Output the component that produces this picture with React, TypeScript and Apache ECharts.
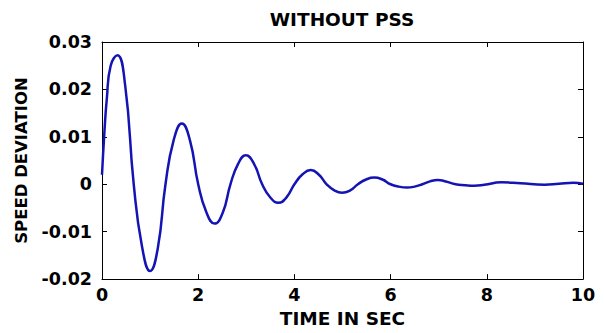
import React, { useEffect, useRef } from "react";
import * as echarts from "echarts";

const timeSec: number[] = [
  0, 0.05, 0.1, 0.18, 0.32, 0.48, 0.66, 0.83, 1.0, 1.16, 1.32, 1.49, 1.66, 1.83,
  2.0, 2.17, 2.34, 2.51, 2.67, 2.83, 2.99, 3.16, 3.33, 3.5, 3.67, 3.84, 4.0,
  4.17, 4.34, 4.51, 4.67, 4.83, 4.99, 5.16, 5.32, 5.49, 5.66, 5.83, 6.0, 6.17,
  6.34, 6.5, 6.66, 6.82, 6.98, 7.15, 7.35, 7.55, 7.74, 7.95, 8.3, 8.7, 9.2, 9.5,
  9.8, 10,
];

const speedDeviation: number[] = [
  0.002, 0.011, 0.018, 0.025, 0.0272, 0.021, 0.0, -0.013, -0.0183, -0.0135, 0,
  0.0093, 0.0128, 0.0092, 0, -0.0059, -0.0083, -0.006, 0, 0.0043, 0.0061,
  0.0043, 0, -0.0028, -0.0039, -0.0027, 0, 0.0021, 0.003, 0.002, 0, -0.0013,
  -0.0018, -0.0013, 0, 0.001, 0.0014, 0.001, 0, -0.0005, -0.0007, -0.0005, 0,
  0.0006, 0.0009, 0.0006, 0, -0.0002, -0.0003, -0.0001, 0.0004, 0.0002,
  -0.0001, 0.0001, 0.0003, 0.0001,
];

const xTicks = { min: 0, max: 10, interval: 2 };
const yTicks = { min: -0.02, max: 0.03, interval: 0.01 };

const FONT = "DejaVu Sans";

export default function App() {
  const ref = useRef<HTMLDivElement>(null);
  useEffect(() => {
    if (!ref.current) return;
    const chart = echarts.init(ref.current, null, { renderer: "svg" });
    const axisLine = { show: true, onZero: false, lineStyle: { color: "#000", width: 1 } };
    const tick = { show: true, inside: true, length: 5, lineStyle: { color: "#000" } };
    const labelStyle = {
      fontFamily: FONT,
      fontWeight: "bold" as const,
      fontSize: 17.5,
      color: "#000",
    };
    chart.setOption({
      animation: false,
      backgroundColor: "#fff",
      title: {
        text: "WITHOUT PSS",
        left: 342,
        top: 10,
        padding: 0,
        textAlign: "center",
        textStyle: { fontFamily: FONT, fontWeight: "bold", fontSize: 18.5, color: "#000" },
      },
      grid: { left: 102, right: 21, top: 42, bottom: 45 },
      xAxis: [
        {
          type: "value",
          position: "bottom",
          ...xTicks,
          axisLine,
          axisTick: tick,
          splitLine: { show: false },
          axisLabel: { ...labelStyle, margin: 7 },
          name: "TIME IN SEC",
          nameLocation: "middle",
          nameGap: 29,
          nameTextStyle: { fontFamily: FONT, fontWeight: "bold", fontSize: 18.5, color: "#000" },
        },
        {
          type: "value",
          position: "top",
          ...xTicks,
          axisLine,
          axisTick: tick,
          splitLine: { show: false },
          axisLabel: { show: false },
        },
      ],
      yAxis: [
        {
          type: "value",
          position: "left",
          ...yTicks,
          axisLine,
          axisTick: tick,
          splitLine: { show: false },
          axisLabel: { ...labelStyle, margin: 10 },
          name: "SPEED DEVIATION",
          nameLocation: "middle",
          nameRotate: 90,
          nameGap: 72,
          nameTextStyle: { fontFamily: FONT, fontWeight: "bold", fontSize: 16.5, color: "#000" },
        },
        {
          type: "value",
          position: "right",
          ...yTicks,
          axisLine,
          axisTick: tick,
          splitLine: { show: false },
          axisLabel: { show: false },
        },
      ],
      series: [
        {
          type: "line",
          xAxisIndex: 0,
          yAxisIndex: 0,
          data: timeSec.map((t, i) => [t, speedDeviation[i]]),
          smooth: 0.5,
          showSymbol: false,
          lineStyle: { color: "#1414b4", width: 2.5 },
        },
      ],
    });
    return () => chart.dispose();
  }, []);
  return (
    <div
      ref={ref}
      style={{ position: "fixed", left: 0, top: 0, width: 604, height: 333 }}
    />
  );
}
